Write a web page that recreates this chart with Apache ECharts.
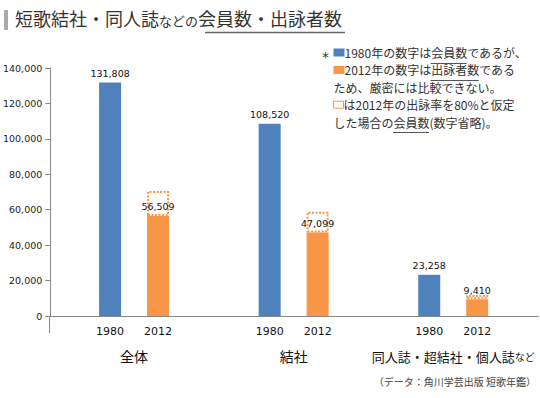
<!DOCTYPE html>
<html>
<head>
<meta charset="utf-8">
<script src="https://cdn.jsdelivr.net/npm/echarts@6/dist/echarts.min.js"></script>
<style>
  html, body { margin: 0; padding: 0; background: #fff; }
  #chart { width: 540px; height: 398px; }
</style>
</head>
<body>
<div id="chart"></div>
<script>
// データ
var categories = ['全体', '結社', '同人誌・超結社・個人誌など'];
var years = ['1980', '2012'];
var members1980 = [131808, 108520, 23258];
var entrants2012 = [56509, 47099, 9410];
// 出詠率80%と仮定した場合の会員数 (点線の枠の上端, 図から読み取り)
var assumed2012 = [70600, 58900, 11800];
var yTicks = [0, 20000, 40000, 60000, 80000, 100000, 120000, 140000];

var blue = '#4f81bd';
var orange = '#f79646';
var jp = '"Noto Sans CJK JP", sans-serif';
var num = '"DejaVu Sans", Verdana, sans-serif';

function comma(v) {
    return String(v).replace(/\B(?=(\d{3})+(?!\d))/g, ',');
}

// 注記の下線位置を文字幅から求める
var noteSize = 12;
var noteLine = 17.4;
var noteTop = 46.5;
var ctx = document.createElement('canvas').getContext('2d');
ctx.font = noteSize + 'px "Noto Sans CJK JP"';
function tw(s) { return ctx.measureText(s).width; }
function underline(x0, row, before, word) {
    var x1 = x0 + tw(before);
    var y = Math.round(noteTop + noteLine * (row + 0.5) + 7.5) + 0.5;
    return { type: 'line', shape: { x1: x1, y1: y, x2: x1 + tw(word), y2: y }, style: { stroke: '#555', lineWidth: 1 } };
}

var myChart = echarts.init(document.getElementById('chart'), null, { renderer: 'svg' });

var option = {
    animation: false,
    grid: { left: 53, right: 7, top: 68, bottom: 82 },
    xAxis: {
        type: 'category',
        data: categories,
        axisLine: { lineStyle: { color: '#888', width: 1 } },
        axisTick: { show: false },
        axisLabel: {
            margin: 6,
            interval: 0,
            formatter: function (value) {
                var top = '{y|' + years[0] + '}{sp|}{y|' + years[1] + '}';
                var bottom;
                if (value.slice(-2) === 'など') {
                    bottom = '{c3|' + value.slice(0, -2) + '}{s|など}';
                } else {
                    bottom = '{c|' + value + '}';
                }
                return top + '\n' + bottom;
            },
            rich: {
                y: { fontFamily: num, fontSize: 11, color: '#111', width: 34, align: 'center', lineHeight: 18 },
                sp: { width: 14, lineHeight: 18 },
                c: { fontFamily: jp, fontSize: 14, color: '#111', lineHeight: 32 },
                c3: { fontFamily: jp, fontSize: 13, color: '#111', lineHeight: 32 },
                s: { fontFamily: jp, fontSize: 10, color: '#111', lineHeight: 32 }
            }
        }
    },
    yAxis: {
        type: 'value',
        min: yTicks[0],
        max: yTicks[yTicks.length - 1],
        interval: yTicks[1] - yTicks[0],
        offset: 4,
        axisLine: { show: true, lineStyle: { color: '#888', width: 1 } },
        axisTick: { show: true, length: 5, lineStyle: { color: '#888' } },
        splitLine: { show: false },
        axisLabel: {
            margin: 8,
            fontFamily: num,
            fontSize: 9.5,
            color: '#222',
            formatter: function (v) { return comma(v); }
        }
    },
    series: [
        {
            name: years[0],
            type: 'bar',
            data: members1980,
            barWidth: 22,
            barGap: '118%',
            itemStyle: { color: blue },
            label: {
                show: true,
                position: 'top',
                distance: 4,
                fontFamily: num,
                fontSize: 9.5,
                color: '#111',
                formatter: function (p) { return comma(p.value); }
            }
        },
        {
            name: years[1],
            type: 'bar',
            stack: 'y2012',
            data: entrants2012,
            barWidth: 22,
            itemStyle: { color: orange },
            z: 3,
            label: {
                show: true,
                position: 'top',
                distance: 4,
                fontFamily: num,
                fontSize: 9.5,
                color: '#111',
                formatter: function (p) { return comma(p.value); }
            }
        },
        {
            name: '仮定',
            type: 'bar',
            stack: 'y2012',
            data: assumed2012.map(function (v, i) { return v - entrants2012[i]; }),
            barWidth: 22,
            z: 2,
            itemStyle: {
                color: 'rgba(0,0,0,0)',
                borderColor: orange,
                borderWidth: 2,
                borderType: [2, 1.5]
            }
        }
    ],
    graphic: [
        // タイトル
        { type: 'rect', left: 4, top: 10, shape: { width: 4, height: 20 }, style: { fill: '#aaa' } },
        {
            type: 'text', left: 15, top: 9,
            style: {
                text: '{a|短歌結社・同人誌}{b|などの}{a|会員数・出詠者数}',
                rich: {
                    a: { fontFamily: jp, fontSize: 18, fill: '#333', verticalAlign: 'bottom', lineHeight: 22 },
                    b: { fontFamily: jp, fontSize: 13, fill: '#333', verticalAlign: 'bottom', lineHeight: 22 }
                }
            }
        },
        { type: 'line', shape: { x1: 205, y1: 32.5, x2: 345, y2: 32.5 }, style: { stroke: '#666', lineWidth: 1.5 } },
        // 軸の延長
        { type: 'line', z: -1, shape: { x1: 49, y1: 316.5, x2: 539, y2: 316.5 }, style: { stroke: '#888', lineWidth: 1 } },
        { type: 'line', z: -1, shape: { x1: 49.5, y1: 316, x2: 49.5, y2: 333 }, style: { stroke: '#888', lineWidth: 1 } },
        // 注記
        { type: 'text', left: 322, top: 50, style: { text: '*', fontFamily: num, fontSize: 14, fill: '#333' } },
        {
            type: 'text', left: 333, top: noteTop,
            style: {
                text: '{bl|}{t|1980年の数字は会員数であるが、}\n' +
                      '{or|}{t|2012年の数字は出詠者数である}\n' +
                      '{t|ため、厳密には比較できない。}\n' +
                      '{ds|}{t|は2012年の出詠率を80%と仮定}\n' +
                      '{t|した場合の会員数(数字省略)。}',
                rich: {
                    t: { fontFamily: jp, fontSize: noteSize, fill: '#333', lineHeight: noteLine },
                    bl: { width: 8, height: 8, backgroundColor: blue, lineHeight: noteLine, padding: [0, 3, 0, 0] },
                    or: { width: 8, height: 8, backgroundColor: orange, lineHeight: noteLine, padding: [0, 3, 0, 0] },
                    ds: { width: 7, height: 7, borderColor: orange, borderWidth: 1, borderType: [1.5, 1.5], lineHeight: noteLine, padding: [0, 3, 0, 0] }
                }
            }
        },
        underline(344, 0, '1980年の数字は', '会員数'),
        underline(344, 1, '2012年の数字は', '出詠者数'),
        underline(333, 4, 'した場合の', '会員数'),
        // 出典
        {
            type: 'text', right: 4, top: 376,
            style: { text: '（データ：角川学芸出版 短歌年鑑）', fontFamily: jp, fontSize: 10, fill: '#444' }
        }
    ]
};

myChart.setOption(option);
window.addEventListener('resize', function () {
    myChart.resize();
});
</script>
</body>
</html>
